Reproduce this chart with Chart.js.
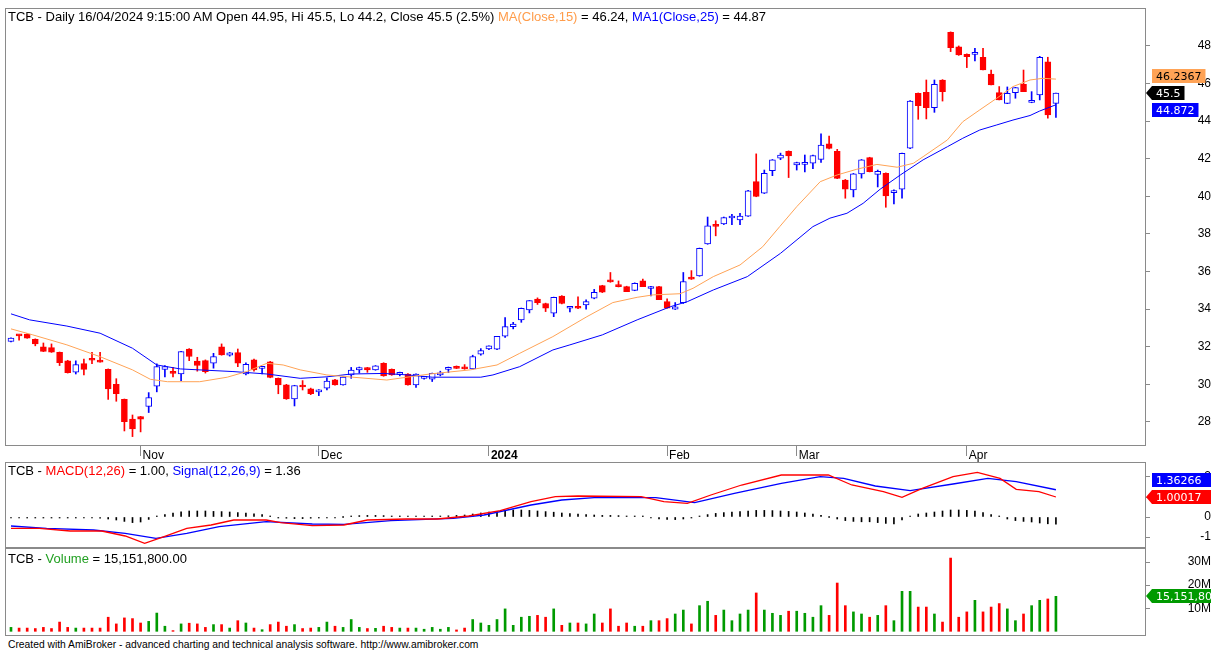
<!DOCTYPE html>
<html>
<head>
<meta charset="utf-8">
<script src="https://cdn.jsdelivr.net/npm/chart.js@4.4.1/dist/chart.umd.min.js"></script>
<style>
  body { margin: 0; background: #fff; width: 1218px; height: 651px; overflow: hidden; position: relative; font-family: "Liberation Sans", Arial, sans-serif; }
  canvas { position: absolute; left: 0; }
  .hdr { position: absolute; left: 8px; font-size: 13px; line-height: 14px; white-space: nowrap; color: #000; z-index: 2; }
  .foot { position: absolute; left: 8px; top: 639px; font-size: 10.3px; line-height: 12px; white-space: nowrap; color: #000; }
</style>
</head>
<body>
<canvas id="priceChart" width="1211" height="463" style="top:0"></canvas>
<canvas id="macdChart" width="1211" height="86" style="top:462px"></canvas>
<canvas id="volChart" width="1211" height="88" style="top:548px"></canvas>

<div class="hdr" style="top:10px">TCB - Daily 16/04/2024 9:15:00 AM Open 44.95, Hi 45.5, Lo 44.2, Close 45.5 (2.5%) <span style="color:#ff9c4a">MA(Close,15)</span> = 46.24, <span style="color:#0000ff">MA1(Close,25)</span> = 44.87</div>
<div class="hdr" style="top:464px">TCB - <span style="color:#ff0000">MACD(12,26)</span> = 1.00, <span style="color:#0000ff">Signal(12,26,9)</span> = 1.36</div>
<div class="hdr" style="top:552px">TCB - <span style="color:#22a022">Volume</span> = 15,151,800.00</div>
<div class="foot">Created with AmiBroker - advanced charting and technical analysis software. http://www.amibroker.com</div>

<script>
// daily bars, oldest first (index 0 .. 129)
const opens = [32.28,32.62,32.68,32.40,32.00,31.95,31.70,31.25,30.65,31.10,
  31.32,31.22,30.80,30.00,29.20,28.15,28.28,28.82,29.90,30.80,
  30.62,30.55,31.87,31.24,31.26,31.12,32.00,31.55,31.69,30.56,
  31.30,30.85,31.20,30.32,29.97,29.22,29.90,29.76,29.60,29.79,
  30.24,29.97,30.50,30.77,30.89,30.77,31.12,30.80,30.53,30.55,
  29.97,30.32,30.28,30.50,30.80,30.90,30.85,30.82,31.60,31.88,
  31.87,32.56,33.07,33.43,33.96,34.53,34.30,33.78,34.70,34.05,
  34.10,34.22,34.58,35.25,35.47,35.22,35.20,35.00,35.50,35.10,
  35.20,34.40,34.00,34.35,35.62,35.77,37.47,38.45,38.53,38.85,
  38.75,38.95,40.78,40.17,41.37,42.03,42.40,41.67,41.70,41.76,
  41.97,42.79,42.40,40.87,40.34,41.20,42.06,41.17,41.23,40.20,
  40.38,42.56,45.48,45.54,44.72,46.19,48.73,47.96,47.56,47.55,
  47.40,46.50,45.52,44.95,45.52,45.96,45.00,45.40,47.16,44.95];
const highs = [32.48,32.63,32.70,32.42,32.20,32.15,31.72,31.28,31.25,31.35,
  31.70,31.70,30.82,30.30,29.22,28.37,28.30,29.56,31.09,31.00,
  30.90,31.76,31.90,31.44,31.30,31.65,32.15,31.70,31.88,31.15,
  31.35,30.92,31.22,30.34,30.00,29.95,30.20,29.80,29.72,30.35,
  30.26,30.40,30.90,30.92,30.90,31.00,31.15,30.82,30.65,30.57,
  30.56,30.40,30.60,30.70,30.92,30.98,31.05,31.55,31.90,32.05,
  32.56,33.55,33.30,34.06,34.46,34.60,34.32,34.64,34.72,34.08,
  34.65,34.50,35.05,35.27,35.95,35.50,35.22,35.40,35.60,35.22,
  35.22,34.55,34.35,35.95,36.05,37.25,38.90,38.70,38.90,39.05,
  39.10,40.32,42.26,41.40,41.96,42.30,42.42,41.82,42.20,42.19,
  43.32,43.20,42.50,40.90,41.22,41.96,42.08,41.40,41.25,40.35,
  42.30,45.10,45.50,46.19,46.19,46.21,48.75,48.00,47.58,47.88,
  47.88,46.72,45.84,45.82,45.80,46.72,45.57,47.45,47.40,45.50];
const lows = [32.26,32.35,32.45,32.05,31.74,31.70,31.00,30.60,30.55,30.50,
  31.10,31.18,29.20,29.10,27.52,27.22,27.47,28.50,29.60,30.40,
  30.40,30.20,31.26,30.70,30.60,30.86,31.55,31.50,30.94,30.50,
  30.70,30.55,30.35,29.50,29.20,28.85,29.70,29.45,29.40,29.70,
  29.95,29.95,30.32,30.60,30.64,30.75,30.43,30.48,30.45,29.95,
  29.83,30.28,30.15,30.45,30.62,30.84,30.80,30.80,31.55,31.85,
  31.85,32.50,32.95,33.30,33.80,34.25,33.87,33.60,34.28,33.85,
  34.02,34.00,34.55,34.88,35.43,35.18,34.93,34.98,35.20,34.70,
  34.50,34.05,33.98,34.30,35.58,35.75,37.45,37.90,38.50,38.50,
  38.50,38.93,39.98,40.15,41.10,41.95,41.00,41.40,41.30,41.47,
  41.80,42.53,40.94,39.90,39.97,40.97,41.30,40.50,39.42,39.60,
  39.90,42.54,44.10,44.12,44.47,45.07,47.70,47.50,46.85,47.20,
  46.72,45.93,45.13,44.93,45.22,45.57,44.98,45.13,44.16,44.20];
const closes = [32.46,32.58,32.46,32.15,31.75,31.71,31.15,30.62,31.05,30.80,
  31.28,31.18,29.75,29.50,28.02,27.63,28.15,29.30,30.94,30.94,
  30.58,31.74,31.48,31.00,30.68,31.48,31.56,31.68,31.12,31.06,
  30.77,30.90,30.37,29.97,29.22,29.94,29.86,29.50,29.70,30.18,
  29.97,30.38,30.76,30.89,30.77,30.98,30.45,30.50,30.57,29.97,
  30.55,30.36,30.58,30.55,30.90,30.85,30.82,31.48,31.80,32.05,
  32.55,33.07,33.20,34.05,34.45,34.35,34.05,34.63,34.30,34.08,
  34.05,34.40,34.90,34.90,35.45,35.20,34.93,35.38,35.20,35.20,
  34.50,34.05,34.12,35.47,35.60,37.23,38.43,38.40,38.87,38.90,
  38.95,40.30,40.00,41.23,41.94,42.20,42.15,41.80,41.80,42.17,
  42.73,42.55,40.96,40.38,41.20,41.94,41.31,41.33,40.02,40.30,
  42.29,45.07,44.82,44.72,45.96,45.57,47.91,47.52,47.43,47.60,
  46.72,45.93,45.13,45.48,45.78,45.57,45.04,47.40,44.33,45.50];
// volume in millions of shares
const volumes = [1.7,1.4,1.4,1.2,1.7,1.2,4.0,1.7,1.4,1.4,
  1.4,1.4,6.1,3.2,5.8,5.5,3.6,4.3,7.9,2.2,
  0.3,3.2,3.5,3.2,1.7,2.9,2.9,1.4,4.6,3.6,
  1.4,0.7,2.9,4.0,2.2,2.9,1.2,1.4,1.7,4.0,
  2.2,1.7,5.1,1.7,1.2,1.3,2.2,1.7,1.4,1.4,
  1.4,0.9,1.7,0.9,1.7,0.6,1.4,5.1,3.6,2.6,
  5.1,9.7,2.6,6.1,6.5,6.9,6.1,9.7,2.6,3.6,
  3.6,3.2,7.5,3.6,9.7,2.2,3.6,2.2,2.2,4.6,
  4.6,5.5,7.5,9.2,3.2,11.1,13.0,6.9,9.2,4.6,
  7.5,9.2,16.6,9.2,7.8,6.9,8.7,8.7,7.8,6.1,
  11.1,6.9,20.9,11.1,8.4,7.5,6.1,6.9,11.1,4.6,
  17.3,17.3,10.5,10.5,7.5,4.0,31.7,6.1,8.4,13.4,
  8.4,10.5,12.0,9.7,4.6,7.5,11.1,13.4,14.0,15.1518];

// moving averages: [bar index, value]
const ma15Last = 46.2367;
const ma25Last = 44.872;
const ma15Points = [[0,32.95],[2.7,32.63],[6.9,32.1],[11,31.47],[15,30.77],[17.2,30.27],[19.3,30.14],[23.3,30.14],
  [26.7,30.38],[29.1,30.68],[31.6,31.12],[33.6,31.03],[35.7,30.77],[39,30.5],[42.2,30.38],[46.4,30.23],[51.7,30.55],
  [56.7,30.77],[60,31.03],[62.8,31.65],[66.9,32.54],[71.1,33.6],[74.3,34.35],[77.3,34.63],[79.3,34.76],[82.6,34.82],
  [84.2,35.11],[86.7,35.73],[90,36.35],[92.8,37.32],[94.9,38.39],[97,39.45],[99.9,40.78],[102,41.14],[104.4,41.44],
  [106.9,41.7],[109.4,41.55],[111.4,41.76],[112.6,42.11],[115.6,43.0],[117.5,43.97],[119.6,44.6],[121.7,45.22],
  [123.7,45.84],[125.8,46.19],[127.4,46.28],[129,ma15Last]];
const ma25Points = [[0,33.75],[2.3,33.43],[6.9,33.1],[11,32.72],[15,31.92],[18,31.03],[20.9,30.82],[27.4,30.68],
  [31.6,30.55],[35.7,30.32],[39,30.4],[42,30.55],[46,30.58],[49,30.5],[52,30.38],[58,30.38],[59.5,30.5],[62.8,30.94],
  [66.9,31.83],[69,32.1],[73,32.63],[77.3,33.43],[81.4,34.13],[83.5,34.4],[86.7,35.02],[90.9,35.73],[95,36.97],
  [99,38.39],[101.1,38.84],[103.2,39.1],[105.2,39.63],[107.3,40.38],[109.8,41.14],[112.6,41.94],[115.6,42.64],
  [117.5,43.09],[119.6,43.53],[121.7,43.8],[123.7,44.06],[125.8,44.3],[127,44.54],[129,ma25Last]];

// MACD panel
const macdLast = 1.00017;
const signalLast = 1.36266;
const macdPoints = [[0,-0.57],[3.5,-0.57],[7.3,-0.7],[11.2,-0.7],[14.1,-0.95],[16.5,-1.32],[18.9,-0.98],[21.7,-0.57],
  [24.7,-0.4],[27.5,-0.15],[31.5,-0.15],[33.3,-0.28],[37.2,-0.43],[41.1,-0.4],[44,-0.15],[48.8,-0.1],[52.6,-0.1],
  [56.5,0.05],[60.4,0.32],[64.2,0.77],[67.2,1.02],[70,1.05],[77.8,1.02],[80.6,0.77],[83.5,0.68],[86.4,1.1],[90.2,1.6],
  [95.1,2.1],[100.9,2.1],[103.8,1.6],[107.7,1.27],[110,0.98],[112.5,1.43],[116.3,2.02],[119.3,2.23],[122.1,1.93],
  [124.1,1.38],[126.9,1.27],[129,macdLast]];
const signalPoints = [[0,-0.45],[4.4,-0.57],[10.2,-0.65],[14.1,-0.82],[17.9,-1.07],[21.7,-0.82],[25.7,-0.48],
  [31.5,-0.23],[37.2,-0.35],[41.1,-0.37],[46.9,-0.18],[54.6,-0.07],[58.4,0.1],[64.2,0.6],[68,0.85],[72,0.97],
  [79.6,0.97],[84.4,0.72],[89.3,1.18],[95.1,1.68],[99.9,2.02],[102.8,1.93],[106.7,1.55],[111,1.32],[116.3,1.65],
  [120.6,1.93],[124.1,1.77],[129,signalLast]];
const histogram = [-0.03,-0.03,-0.02,-0.03,-0.03,-0.03,-0.04,-0.04,-0.05,-0.05,
  -0.05,-0.06,-0.1,-0.15,-0.22,-0.28,-0.25,-0.12,0.02,0.12,
  0.2,0.26,0.3,0.3,0.3,0.28,0.27,0.25,0.22,0.2,
  0.16,0.12,0.05,-0.02,-0.06,-0.08,-0.08,-0.06,-0.05,-0.04,
  -0.02,0.0,0.04,0.07,0.08,0.08,0.07,0.05,0.03,0.03,
  0.02,0.02,0.03,0.04,0.06,0.08,0.1,0.15,0.2,0.25,
  0.28,0.32,0.35,0.35,0.33,0.3,0.27,0.24,0.2,0.17,
  0.14,0.12,0.1,0.08,0.08,0.07,0.05,0.04,0.02,-0.05,
  -0.1,-0.12,-0.13,-0.1,-0.03,0.05,0.12,0.18,0.22,0.25,
  0.27,0.3,0.33,0.33,0.32,0.3,0.28,0.25,0.2,0.15,
  0.08,0.0,-0.1,-0.18,-0.22,-0.24,-0.24,-0.28,-0.32,-0.34,
  -0.15,0.05,0.15,0.2,0.25,0.3,0.35,0.35,0.33,0.3,
  0.22,0.12,0.02,-0.1,-0.18,-0.22,-0.25,-0.3,-0.34,-0.36];

// axes
const monthTicks = [16, 38, 59, 81, 97, 118];
const monthLabels = ['Nov', 'Dec', '2024', 'Feb', 'Mar', 'Apr'];
const priceTicks = [28, 30, 32, 34, 36, 38, 40, 42, 44, 46, 48];
const macdTicks = [-1, 0, 1, 2];
const volumeTicks = [10, 20, 30];

const UP = '#0000ff', DOWN = '#ff0000', VOL_UP = '#009a00', MA15_COLOR = '#ffa356', FRAME = '#8a8a8a';
const FONT = '"Liberation Sans", Arial, sans-serif';
const X_MIN = -0.74, X_MAX = 140.12;

const idx = closes.map((_, i) => i);
const isUp = idx.map(i => closes[i] >= opens[i]);
const toXY = pts => pts.map(p => ({x: p[0], y: p[1]}));
const fixedTicks = vals => (scale) => { scale.ticks = vals.map(v => ({value: v})); };

Chart.defaults.font.family = FONT;
Chart.defaults.font.size = 12;
Chart.defaults.color = '#000';

const frame = {
  id: 'frame',
  afterDraw(chart) {
    const {ctx, chartArea: a} = chart;
    ctx.save();
    ctx.strokeStyle = FRAME;
    ctx.lineWidth = 1;
    ctx.strokeRect(a.left + 0.5, a.top + 0.5, a.right - a.left - 1, a.bottom - a.top - 1);
    ctx.restore();
  }
};

// value tag on the right axis; toEdge stretches the box to the canvas edge
function drawTag(ctx, y, text, bg, fg, arrow, toEdge) {
  ctx.save();
  ctx.font = '11px "DejaVu Sans", sans-serif';
  const w = ctx.measureText(text).width;
  const x0 = 1152, h = 14, top = Math.round(y - h / 2);
  const x1 = toEdge ? ctx.canvas.width : x0 + w + 8;
  ctx.fillStyle = bg;
  ctx.beginPath();
  if (arrow) {
    ctx.moveTo(1146, top + h / 2);
    ctx.lineTo(x0, top);
    ctx.lineTo(x1, top);
    ctx.lineTo(x1, top + h);
    ctx.lineTo(x0, top + h);
    ctx.closePath();
  } else {
    ctx.rect(x0, top, x1 - x0, h);
  }
  ctx.fill();
  ctx.fillStyle = fg;
  ctx.textBaseline = 'middle';
  ctx.textAlign = 'left';
  ctx.fillText(text, x0 + 4, top + h / 2 + 1);
  ctx.restore();
}

// keeps the secondary tags from overlapping the fixed one
function spread(fixedY, y, gap) {
  if (Math.abs(y - fixedY) >= gap) return y;
  return y <= fixedY ? fixedY - gap : fixedY + gap;
}

const xScale = (extra) => Object.assign({
  type: 'linear', min: X_MIN, max: X_MAX, offset: false, bounds: 'data',
  grid: {display: false, offset: false}, border: {display: false}, ticks: {display: false}
}, extra);

const rightAxis = (min, max, ticks, padding, cb) => ({
  position: 'right', min, max, bounds: 'data',
  afterBuildTicks: fixedTicks(ticks),
  afterFit: (s) => { s.width = 65; s.paddingTop = 0; s.paddingBottom = 0; },
  grid: {drawOnChartArea: false, drawTicks: true, tickLength: 4, color: FRAME},
  border: {display: false},
  ticks: {crossAlign: 'far', padding, color: '#000', font: {size: 12}, callback: cb || (v => v)}
});

// price panel
new Chart(document.getElementById('priceChart'), {
  type: 'bar',
  data: {
    datasets: [
      {
        type: 'line', label: 'MA15', data: toXY(ma15Points), borderColor: MA15_COLOR,
        borderWidth: 1, pointRadius: 0, tension: 0, order: -2
      },
      {
        type: 'line', label: 'MA25', data: toXY(ma25Points), borderColor: UP,
        borderWidth: 1, pointRadius: 0, tension: 0, order: -1
      },
      {
        label: 'body', data: idx.map(i => ({x: i, y: [opens[i], closes[i]]})),
        backgroundColor: idx.map(i => isUp[i] ? '#ffffff' : DOWN),
        borderColor: idx.map(i => isUp[i] ? UP : DOWN),
        borderWidth: 1, borderSkipped: false, barThickness: 6, minBarLength: 2,
        grouped: false, order: 0
      },
      {
        label: 'wick', data: idx.map(i => ({x: i, y: [lows[i], highs[i]]})),
        backgroundColor: idx.map(i => isUp[i] ? UP : DOWN),
        borderWidth: 0, barThickness: 1, grouped: false, order: 1
      }
    ]
  },
  options: {
    responsive: false, animation: false, devicePixelRatio: 1,
    layout: {padding: {left: 5, top: 8, right: 0, bottom: 0}},
    plugins: {legend: {display: false}, tooltip: {enabled: false}},
    scales: {
      x: xScale({
        afterBuildTicks: fixedTicks(monthTicks),
        afterFit: (s) => { s.height = 17; s.paddingLeft = 0; s.paddingRight = 0; },
        grid: {display: true, offset: false, drawOnChartArea: false, drawTicks: true, tickLength: 10, color: FRAME},
        ticks: {
          display: true, autoSkip: false, maxRotation: 0, align: 'start', labelOffset: 2, padding: -8,
          callback: (v, i) => monthLabels[i],
          font: (c) => ({size: 12, weight: c.index === 2 ? 'bold' : 'normal'})
        }
      }),
      y: rightAxis(26.72, 50.02, priceTicks, 42)
    }
  },
  plugins: [frame, {
    id: 'priceTags',
    afterDraw(chart) {
      const y = chart.scales.y;
      const last = closes.length - 1;
      const cy = y.getPixelForValue(closes[last]);
      drawTag(chart.ctx, spread(cy, y.getPixelForValue(ma15Last), 17), String(ma15Last), MA15_COLOR, '#000', false, false);
      drawTag(chart.ctx, spread(cy, y.getPixelForValue(ma25Last), 17), String(ma25Last), UP, '#fff', false, false);
      drawTag(chart.ctx, cy, String(closes[last]), '#000', '#fff', true, false);
    }
  }]
});

// MACD panel
new Chart(document.getElementById('macdChart'), {
  type: 'bar',
  data: {
    datasets: [
      {
        type: 'line', label: 'Signal', data: toXY(signalPoints), borderColor: UP,
        borderWidth: 1.3, pointRadius: 0, tension: 0, order: -1
      },
      {
        type: 'line', label: 'MACD', data: toXY(macdPoints), borderColor: DOWN,
        borderWidth: 1.3, pointRadius: 0, tension: 0, order: -2
      },
      {
        label: 'hist', data: idx.map(i => ({x: i, y: histogram[i]})),
        backgroundColor: '#000', borderWidth: 0, barThickness: 1, minBarLength: 1, grouped: false, order: 0
      }
    ]
  },
  options: {
    responsive: false, animation: false, devicePixelRatio: 1,
    layout: {padding: {left: 5, top: 0, right: 0, bottom: 0}},
    plugins: {legend: {display: false}, tooltip: {enabled: false}},
    scales: {
      x: xScale({display: false}),
      y: rightAxis(-1.55, 2.75, macdTicks, 44)
    }
  },
  plugins: [frame, {
    id: 'macdTags',
    afterDraw(chart) {
      const y = chart.scales.y;
      const my = y.getPixelForValue(macdLast);
      drawTag(chart.ctx, spread(my, y.getPixelForValue(signalLast), 17), String(signalLast), UP, '#fff', false, true);
      drawTag(chart.ctx, my, String(macdLast), DOWN, '#fff', true, true);
    }
  }]
});

// volume panel
new Chart(document.getElementById('volChart'), {
  type: 'bar',
  data: {
    datasets: [{
      label: 'Volume', data: idx.map(i => ({x: i, y: volumes[i]})),
      backgroundColor: idx.map(i => isUp[i] ? VOL_UP : DOWN),
      borderWidth: 0, barThickness: 2, grouped: false
    }]
  },
  options: {
    responsive: false, animation: false, devicePixelRatio: 1,
    layout: {padding: {left: 5, top: 0, right: 0, bottom: 0}},
    plugins: {legend: {display: false}, tooltip: {enabled: false}},
    scales: {
      x: xScale({display: false}),
      y: rightAxis(-2.03, 36.06, volumeTicks, 34, v => v + 'M')
    }
  },
  plugins: [frame, {
    id: 'volTag',
    afterDraw(chart) {
      const y = chart.scales.y;
      const last = volumes.length - 1;
      const text = Math.round(volumes[last] * 1e6).toLocaleString('en-US');
      drawTag(chart.ctx, y.getPixelForValue(volumes[last]), text, VOL_UP, '#fff', true, true);
    }
  }]
});
</script>
</body>
</html>
